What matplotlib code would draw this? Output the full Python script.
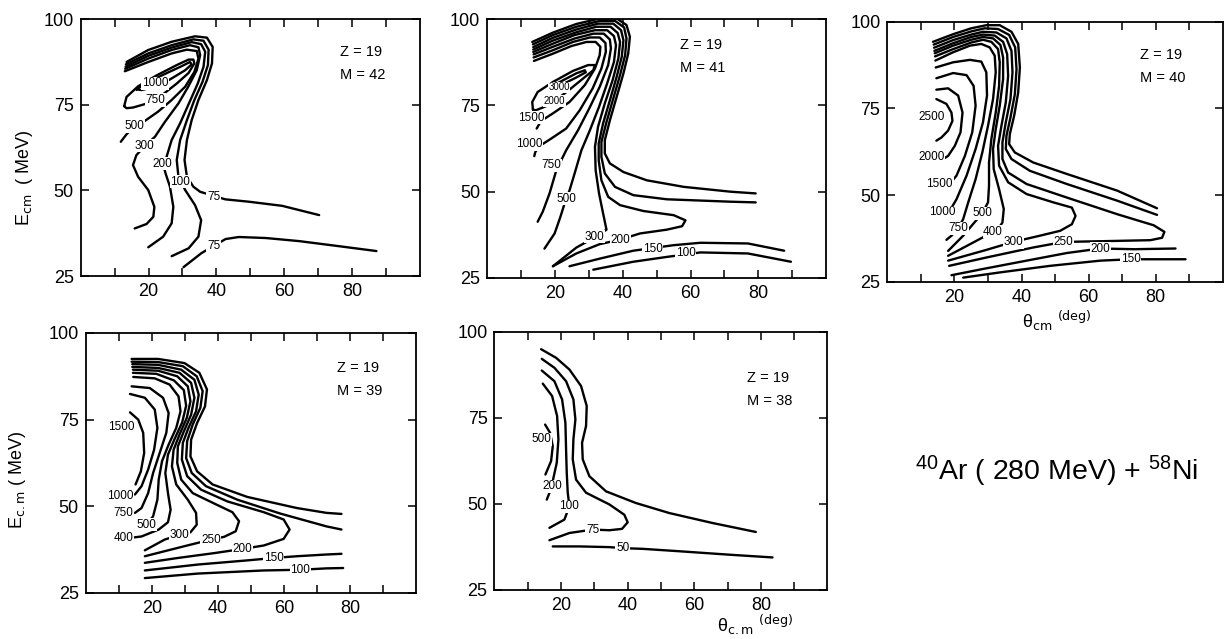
import matplotlib.pyplot as plt

plt.rcParams['font.family'] = ['Liberation Sans', 'DejaVu Sans']
plt.rcParams['mathtext.default'] = 'regular'

# contour lines, points are (theta_cm [deg], E_cm [MeV])

# ---- Z=19, M=42 ----
m42_lines = [
    [(13.5, 87.5), (19.9, 91.0), (26.8, 93.4), (33.7, 95.0), (37.2, 94.6), (38.9, 91.9), (38.7, 87.1),
     (37.2, 82.2), (34.7, 76.4), (32.7, 70.5), (31.3, 64.7), (30.6, 58.9), (31.3, 54.0), (33.2, 51.1),
     (35.2, 49.6), (42.6, 47.4), (49.6, 46.7), (59.4, 45.5), (70.3, 42.8)],
    [(30.3, 27.6), (35.6, 31.7), (42.7, 35.8), (46.6, 36.4), (54.6, 36.1), (64.4, 35.2), (76.3, 33.7),
     (87.2, 32.3)],
    [(13.3, 86.8), (19.9, 90.0), (26.8, 92.4), (33.2, 94.1), (36.2, 93.7), (37.7, 91.1), (37.5, 86.6),
     (35.9, 81.7), (33.5, 76.4), (31.3, 70.5), (29.3, 64.7), (28.3, 58.9), (28.8, 54.0), (30.8, 50.1),
     (33.7, 45.7), (35.5, 41.3), (34.7, 36.5), (31.8, 33.1), (26.8, 30.8)],
    [(13.2, 86.1), (19.9, 89.3), (26.8, 91.7), (32.7, 93.3), (35.5, 92.7), (36.7, 90.5), (36.2, 86.1),
     (34.5, 81.2), (31.9, 75.4), (29.3, 69.6), (26.8, 64.7), (25.3, 59.8), (24.3, 57.5), (25.0, 55.0),
     (26.3, 51.1), (27.3, 45.2), (26.8, 40.4), (24.3, 36.5), (19.9, 33.4)],
    [(13.1, 85.5), (19.9, 88.5), (26.8, 91.0), (32.2, 92.4), (34.7, 91.8), (35.2, 89.5), (34.2, 85.1),
     (31.7, 80.3), (28.8, 75.4), (24.8, 70.0), (21.9, 65.7), (18.9, 63.0), (16.4, 60.3), (15.4, 57.4),
     (16.9, 54.0), (19.9, 50.1), (21.7, 45.2), (21.4, 42.3), (19.4, 40.2), (15.9, 38.9)],
    [(13.0, 84.8), (19.9, 87.5), (26.8, 90.0), (31.3, 91.1), (34.2, 90.7), (34.7, 88.5), (33.5, 84.6),
     (30.8, 80.3), (26.8, 76.4), (22.8, 73.0), (18.9, 70.3), (15.9, 68.8), (13.5, 66.4), (11.8, 64.2)],
    [(12.8, 74.6), (13.5, 77.3), (16.9, 80.4), (22.4, 83.6), (28.3, 86.6), (31.8, 88.2), (33.2, 88.2),
     (33.5, 87.1), (31.8, 84.3), (28.3, 81.2), (24.3, 78.1), (21.9, 76.4), (18.9, 75.2), (15.4, 74.2),
     (13.5, 74.0), (12.8, 74.6)],
    [(16.4, 79.5), (19.9, 81.7), (24.8, 84.0), (29.8, 86.3), (32.2, 87.5), (32.7, 86.8), (30.8, 85.1),
     (26.8, 82.7), (23.8, 81.0), (20.9, 80.0), (17.9, 79.3), (16.4, 79.5)],
]
m42_labels = [("1000", 21.9, 81.3), ("750", 21.9, 76.4), ("500", 15.9, 68.8), ("300", 18.9, 63.0),
              ("200", 24.0, 57.8), ("100", 29.3, 52.5), ("75", 39.2, 48.2), ("75", 39.2, 33.8)]

# ---- Z=19, M=41 ----
m41_lines = [
    [(13.3, 93.4), (19.4, 96.1), (26.3, 98.6), (33.2, 100.2), (38.2, 100.2), (41.1, 98.3), (42.1, 94.9),
     (41.6, 90.0), (40.2, 84.3), (38.2, 77.5), (36.2, 70.7), (34.7, 64.9), (34.7, 61.1), (36.2, 58.2),
     (40.2, 55.7), (47.1, 53.3), (58.0, 51.4), (71.8, 50.0), (79.2, 49.5)],
    [(13.5, 92.7), (19.4, 95.4), (26.3, 97.8), (33.2, 99.5), (37.7, 99.5), (40.4, 97.6), (41.1, 94.4),
     (40.7, 89.6), (39.2, 83.8), (37.2, 77.0), (35.2, 70.2), (33.7, 64.4), (33.7, 60.1), (34.7, 55.3),
     (37.7, 51.4), (43.1, 49.0), (53.0, 47.8), (71.8, 47.1), (79.2, 46.9)],
    [(13.6, 91.9), (19.4, 94.6), (26.3, 97.0), (32.7, 98.7), (37.2, 98.7), (39.5, 96.8), (40.2, 93.9),
     (39.7, 89.1), (38.2, 83.3), (36.2, 76.5), (34.2, 69.8), (32.9, 64.0), (32.9, 59.1), (33.7, 53.3),
     (35.7, 48.5), (39.2, 46.1), (46.1, 44.4), (55.0, 43.2), (58.5, 41.7), (57.5, 40.0), (53.0, 39.0),
     (45.1, 37.9), (39.2, 36.1), (33.2, 34.8), (26.3, 32.1), (19.4, 28.4)],
    [(13.6, 91.2), (19.4, 93.8), (26.3, 96.2), (32.2, 97.8), (36.4, 97.8), (38.5, 96.0), (39.2, 93.4),
     (38.7, 88.6), (37.0, 82.3), (34.7, 75.6), (32.7, 68.8), (31.8, 63.0), (32.0, 56.2), (33.0, 49.5),
     (34.2, 43.7), (35.2, 39.0), (31.6, 36.7), (26.3, 33.8), (19.4, 28.4)],
    [(13.6, 90.5), (19.4, 92.9), (25.8, 95.4), (31.8, 96.8), (35.4, 96.8), (37.4, 95.1), (38.0, 92.5),
     (37.4, 87.6), (35.4, 81.4), (33.0, 74.6), (30.3, 67.8), (27.8, 62.0), (25.8, 55.3), (24.3, 50.4),
     (23.3, 48.0), (21.6, 42.7), (19.9, 37.9), (16.9, 33.5)],
    [(13.7, 89.8), (19.4, 92.0), (25.8, 94.4), (31.3, 95.8), (34.4, 95.8), (36.2, 94.1), (36.5, 91.5),
     (35.7, 86.7), (33.2, 80.4), (30.1, 74.1), (26.8, 67.8), (23.3, 62.0), (20.4, 56.2), (18.4, 49.5),
     (16.4, 44.2), (14.9, 41.3)],
    [(13.7, 88.9), (19.4, 91.0), (25.3, 93.4), (30.3, 94.7), (33.2, 94.7), (34.9, 93.1), (35.0, 90.5),
     (33.7, 85.7), (31.1, 79.9), (27.3, 73.6), (23.3, 68.3), (18.9, 65.4), (15.4, 63.2), (14.2, 61.5),
     (13.9, 60.3)],
    [(13.8, 87.9), (19.4, 90.0), (24.8, 92.2), (29.3, 93.4), (32.0, 93.4), (33.4, 92.0), (33.2, 89.6),
     (31.8, 85.7), (28.8, 80.9), (24.3, 76.0), (19.4, 72.7), (15.9, 70.5), (14.6, 68.3)],
    [(13.5, 73.8), (13.3, 76.0), (14.9, 78.9), (19.4, 81.8), (25.3, 85.0), (29.8, 86.7), (31.8, 86.7),
     (31.3, 85.2), (28.3, 82.8), (24.3, 79.6), (20.9, 77.0), (17.4, 74.8), (14.4, 73.6), (13.5, 73.8)],
    [(18.4, 80.2), (22.4, 82.3), (26.3, 84.3), (28.8, 85.2), (29.1, 84.6), (26.3, 83.1), (22.8, 81.4),
     (20.4, 80.2), (18.6, 79.6), (18.4, 80.2)],
    [(24.3, 28.4), (33.2, 30.6), (43.1, 32.9), (55.0, 34.5), (62.9, 35.2), (76.9, 35.0), (87.6, 32.9)],
    [(31.3, 27.4), (43.1, 29.7), (53.0, 31.1), (62.9, 32.4), (76.9, 32.1), (89.6, 29.7)],
]
m41_labels = [("3000", 21.2, 80.2), ("2000", 19.9, 76.3), ("1500", 13.0, 71.5), ("1000", 12.5, 63.7),
              ("750", 18.9, 57.7), ("500", 23.3, 48.0), ("300", 31.6, 36.9), ("200", 39.2, 36.1),
              ("150", 48.9, 33.5), ("100", 58.5, 32.1)]

# ---- Z=19, M=40 ----
m40_lines = [
    [(13.6, 94.2), (19.6, 96.4), (25.0, 98.1), (29.5, 99.0), (33.5, 99.0), (37.0, 97.1), (39.0, 93.6),
     (39.5, 86.8), (39.0, 79.6), (37.8, 72.9), (36.5, 67.6), (36.3, 64.7), (38.0, 62.3), (43.5, 59.4),
     (53.5, 56.1), (68.5, 51.3), (80.4, 46.2)],
    [(13.8, 93.4), (19.6, 95.6), (25.0, 97.2), (29.0, 98.1), (33.0, 97.9), (36.3, 96.2), (38.1, 92.6),
     (38.5, 86.3), (38.0, 79.1), (36.7, 72.4), (35.5, 67.1), (35.3, 63.3), (37.0, 60.4), (42.5, 57.0),
     (53.5, 53.2), (68.5, 48.4), (80.4, 44.3)],
    [(13.9, 92.5), (19.6, 94.7), (25.0, 96.3), (28.5, 97.1), (32.5, 96.9), (35.5, 95.2), (37.0, 91.6),
     (37.3, 85.4), (36.7, 77.7), (35.3, 71.0), (34.3, 65.2), (34.3, 60.4), (36.0, 56.5), (41.5, 53.2),
     (53.5, 49.3), (68.5, 44.5), (79.4, 41.3), (82.6, 39.4), (81.9, 37.7), (78.4, 37.0), (63.5, 36.7),
     (52.5, 36.5), (43.5, 34.9), (29.5, 32.0), (18.4, 29.6)],
    [(14.0, 91.6), (19.6, 93.8), (25.0, 95.6), (28.5, 96.3), (32.0, 96.0), (34.5, 94.2), (35.7, 90.7),
     (36.0, 84.4), (35.3, 76.7), (34.0, 70.0), (33.0, 64.2), (33.3, 58.5), (36.0, 53.7), (41.5, 50.3),
     (49.5, 47.9), (55.0, 46.4), (56.1, 44.0), (55.0, 41.6), (51.5, 39.7), (45.5, 38.3), (37.5, 36.5),
     (29.5, 34.2), (18.1, 31.1)],
    [(14.1, 90.9), (19.6, 93.1), (25.0, 94.8), (28.5, 95.6), (31.5, 95.2), (33.7, 93.3), (34.5, 89.7),
     (34.5, 83.5), (33.5, 75.8), (32.3, 69.0), (31.5, 63.3), (31.7, 57.5), (33.3, 51.7), (34.7, 46.0),
     (34.3, 42.1), (33.0, 40.2), (31.5, 39.4), (26.5, 36.8), (18.1, 32.5)],
    [(14.2, 90.0), (19.6, 92.1), (25.0, 94.0), (28.5, 94.8), (31.0, 94.2), (33.0, 92.1), (33.5, 88.3),
     (33.3, 81.5), (32.3, 73.8), (31.0, 66.2), (30.3, 59.4), (30.3, 52.7), (30.0, 47.9), (28.3, 44.8),
     (25.5, 41.6), (22.6, 38.3), (18.1, 33.9)],
    [(14.3, 88.8), (19.6, 91.2), (24.6, 93.1), (28.0, 93.6), (30.5, 92.6), (32.0, 90.2), (32.3, 85.4),
     (31.5, 77.7), (30.0, 70.0), (28.3, 62.3), (26.3, 54.6), (24.1, 47.9), (22.6, 43.1), (21.1, 40.4),
     (19.1, 38.3), (17.6, 37.1)],
    [(14.4, 86.8), (19.6, 88.3), (24.6, 89.0), (28.0, 88.5), (29.5, 85.4), (29.7, 78.7), (28.5, 71.0),
     (26.3, 63.3), (23.6, 55.6), (20.6, 48.8), (18.6, 45.5), (17.6, 44.0)],
    [(14.6, 83.7), (19.6, 85.2), (23.6, 84.6), (25.7, 81.5), (26.3, 75.8), (25.3, 68.1), (23.1, 61.3),
     (20.6, 55.6), (18.1, 52.7), (16.6, 51.7)],
    [(14.6, 80.4), (18.1, 80.8), (21.1, 78.7), (22.4, 73.8), (21.8, 68.1), (20.1, 64.2), (18.1, 61.3),
     (16.6, 60.4)],
    [(14.6, 77.7), (17.6, 76.3), (19.1, 73.8), (19.4, 71.4), (18.1, 68.6), (16.1, 66.6), (14.6, 65.7)],
    [(19.1, 26.9), (28.5, 28.7), (41.5, 31.1), (53.5, 33.3), (63.5, 34.6), (73.5, 34.4), (85.9, 34.6)],
    [(22.6, 26.2), (33.5, 27.7), (48.5, 29.6), (63.5, 31.1), (72.5, 31.5), (79.4, 31.5), (88.9, 31.5)],
]
m40_labels = [("2500", 13.1, 72.4), ("2000", 13.1, 60.9), ("1500", 15.6, 53.2), ("1000", 16.4, 45.0),
              ("750", 21.1, 40.4), ("500", 28.3, 44.8), ("400", 31.5, 39.4), ("300", 37.5, 36.5),
              ("250", 52.5, 36.5), ("200", 63.5, 34.6), ("150", 72.5, 31.5)]

# ---- Z=19, M=39 ----
m39_lines = [
    [(13.9, 92.5), (21.9, 92.5), (29.9, 91.3), (34.4, 88.5), (36.7, 83.7), (36.1, 78.8), (33.7, 74.0),
     (31.9, 69.2), (31.7, 64.4), (33.7, 60.1), (38.4, 56.3), (48.9, 52.7), (63.9, 49.5), (72.9, 48.1),
     (77.4, 47.8)],
    [(13.9, 91.7), (21.9, 91.6), (29.4, 90.4), (33.6, 87.5), (35.4, 83.2), (34.7, 78.4), (32.4, 73.6),
     (30.7, 68.8), (30.4, 63.9), (32.1, 59.6), (36.4, 55.8), (45.9, 51.9), (58.9, 47.9), (72.9, 44.2),
     (77.4, 43.3)],
    [(14.1, 91.0), (21.9, 90.8), (28.9, 89.4), (32.9, 86.5), (34.2, 82.2), (33.4, 77.4), (31.1, 72.6),
     (29.4, 68.3), (29.1, 63.5), (30.7, 58.7), (34.9, 54.8), (42.9, 51.4), (53.9, 48.3), (59.9, 46.2),
     (61.7, 43.3), (59.9, 40.6), (53.9, 38.7), (47.4, 37.7), (38.9, 36.5), (27.9, 35.1), (17.9, 33.7)],
    [(14.1, 90.2), (21.9, 89.9), (28.4, 88.5), (31.9, 85.6), (32.9, 81.3), (31.9, 76.4), (29.7, 71.6),
     (27.9, 67.3), (27.7, 62.5), (28.9, 57.7), (32.4, 53.8), (38.9, 50.8), (44.4, 48.3), (46.4, 45.7),
     (45.4, 42.8), (41.9, 41.2), (37.9, 40.4), (29.9, 38.5), (17.9, 35.6)],
    [(14.3, 89.4), (21.9, 89.1), (27.7, 87.5), (30.9, 84.6), (31.7, 80.3), (30.6, 75.5), (28.4, 70.7),
     (26.6, 66.3), (26.1, 61.5), (27.4, 56.3), (30.9, 51.9), (33.4, 48.1), (33.6, 44.7), (31.7, 42.5),
     (28.4, 41.8), (23.9, 40.4), (17.9, 37.3)],
    [(14.3, 88.5), (21.4, 88.2), (26.7, 86.3), (29.7, 83.5), (30.4, 79.0), (29.2, 74.2), (26.9, 69.4),
     (24.9, 64.9), (24.1, 59.6), (24.9, 53.8), (25.7, 49.0), (24.9, 45.4), (22.1, 43.3), (16.9, 41.3),
     (14.4, 41.0)],
    [(14.4, 87.3), (20.9, 86.9), (25.4, 85.1), (28.1, 81.7), (28.7, 77.4), (27.4, 72.6), (25.1, 67.8),
     (23.1, 63.0), (22.1, 57.7), (21.7, 51.9), (20.4, 47.1), (18.4, 44.7), (16.4, 43.3)],
    [(13.9, 84.6), (19.4, 84.1), (23.4, 81.3), (25.1, 76.9), (24.4, 71.2), (22.4, 65.4), (20.4, 59.6),
     (18.9, 53.8), (16.9, 49.5), (14.9, 48.1)],
    [(13.4, 82.4), (17.9, 81.3), (20.9, 77.9), (21.7, 72.6), (20.7, 66.3), (18.9, 60.6), (16.9, 55.8),
     (14.9, 53.4)],
    [(13.4, 77.1), (15.9, 75.0), (17.4, 71.2), (17.7, 65.4), (16.7, 60.1), (15.1, 56.3)],
    [(17.9, 31.5), (33.9, 33.2), (48.9, 34.4), (56.9, 35.1), (63.9, 35.6), (72.9, 36.1), (77.4, 36.3)],
    [(17.9, 29.3), (33.9, 30.6), (53.9, 31.5), (64.9, 31.7), (72.9, 32.1), (77.9, 32.2)],
]
m39_labels = [("1500", 10.9, 72.9), ("1000", 10.4, 52.9), ("750", 11.4, 48.1), ("500", 18.4, 44.7),
              ("400", 11.4, 40.9), ("300", 28.4, 41.8), ("250", 37.9, 40.4), ("200", 47.4, 37.7),
              ("150", 56.9, 35.1), ("100", 64.9, 31.7)]

# ---- Z=19, M=38 ----
m38_lines = [
    [(14.0, 94.9), (18.5, 92.4), (22.5, 89.0), (26.0, 84.2), (27.7, 78.4), (27.5, 72.6), (26.3, 67.7),
     (26.5, 62.9), (28.5, 58.0), (33.5, 53.6), (42.5, 50.2), (52.5, 47.3), (65.5, 44.4), (78.5, 41.8)],
    [(14.2, 92.1), (18.0, 89.5), (21.5, 85.6), (23.7, 80.3), (24.3, 74.5), (23.7, 68.7), (23.5, 62.9),
     (24.5, 57.0), (27.5, 53.2), (34.5, 49.8), (39.0, 46.8), (40.0, 44.6), (38.3, 42.7), (34.5, 42.3),
     (29.5, 42.5), (22.5, 41.5), (16.5, 39.4)],
    [(14.2, 88.7), (18.0, 85.6), (20.3, 80.3), (21.3, 73.5), (21.5, 65.8), (21.7, 59.0), (22.0, 53.2),
     (22.5, 49.3), (21.0, 45.4), (16.5, 43.0)],
    [(14.5, 84.9), (17.3, 81.3), (18.8, 75.5), (19.2, 68.7), (18.7, 61.9), (17.7, 57.5), (17.3, 55.1),
     (15.7, 51.2)],
    [(15.2, 73.0), (16.7, 70.6), (17.5, 66.7), (17.0, 62.4), (15.3, 58.5)],
    [(17.5, 37.6), (25.5, 37.6), (34.5, 37.4), (38.5, 37.1), (44.5, 36.9), (55.5, 36.2), (70.5, 35.2),
     (83.5, 34.4)],
]
m38_labels = [("500", 14.0, 68.7), ("200", 17.3, 55.1), ("100", 22.5, 49.3), ("75", 29.5, 42.5),
              ("50", 38.5, 37.1)]

panels = [
    ("42", m42_lines, m42_labels, [0.066, 0.568, 0.277, 0.402], (0.764, 0.872)),
    ("41", m41_lines, m41_labels, [0.398, 0.565, 0.277, 0.405], (0.57, 0.90)),
    ("40", m40_lines, m40_labels, [0.725, 0.559, 0.274, 0.407], (0.753, 0.873)),
    ("39", m39_lines, m39_labels, [0.070, 0.072, 0.270, 0.407], (0.761, 0.865)),
    ("38", m38_lines, m38_labels, [0.404, 0.077, 0.272, 0.404], (0.757, 0.82)),
]

fig = plt.figure(figsize=(12.24, 6.39), dpi=100)

axes = []
for mass, lines, labels, box, zm_pos in panels:
    ax = fig.add_axes(box)
    for pts in lines:
        ax.plot([p[0] for p in pts], [p[1] for p in pts], color='black', lw=1.7,
                solid_joinstyle='round', solid_capstyle='round')
    for txt, x, y in labels:
        fs = 7 if txt in ("3000", "2000") and mass == "41" else 8.5
        ax.text(x, y, txt, fontsize=fs, ha='center', va='center',
                bbox=dict(facecolor='white', edgecolor='none', pad=0.4))
    ax.set_xlim(0, 100)
    ax.set_ylim(25, 100)
    ax.set_xticks(range(10, 100, 10))
    ax.set_xticklabels(["", "20", "", "40", "", "60", "", "80", ""])
    ax.set_yticks([25, 50, 75, 100])
    ax.tick_params(direction='in', top=True, right=True, length=6, width=1.1, labelsize=13, pad=5)
    for sp in ax.spines.values():
        sp.set_linewidth(1.3)
    ax.text(zm_pos[0], zm_pos[1], "Z = 19", transform=ax.transAxes, fontsize=10.5, va='center')
    ax.text(zm_pos[0], zm_pos[1] - 0.09, "M = " + mass, transform=ax.transAxes, fontsize=10.5, va='center')
    axes.append(ax)

axes[0].text(-0.165, 0.385, r"E$_{\rm cm}$  ( MeV)", transform=axes[0].transAxes, rotation=90,
             fontsize=13, ha='center', va='center')
axes[3].text(-0.205, 0.435, r"E$_{\rm c.m}$ ( MeV)", transform=axes[3].transAxes, rotation=90,
             fontsize=13, ha='center', va='center')
axes[2].text(0.40, -0.15, r"$\theta_{\rm cm}$ $^{\rm (deg)}$", transform=axes[2].transAxes,
             fontsize=13, ha='left', va='center')
axes[4].text(0.667, -0.136, r"$\theta_{\rm c.m}$ $^{\rm (deg)}$", transform=axes[4].transAxes,
             fontsize=13, ha='left', va='center')

fig.text(0.7475, 0.262, r"$^{40}$Ar ( 280 MeV) + $^{58}$Ni", fontsize=20.5, ha='left', va='center')

fig.savefig("out.png", dpi=100)
